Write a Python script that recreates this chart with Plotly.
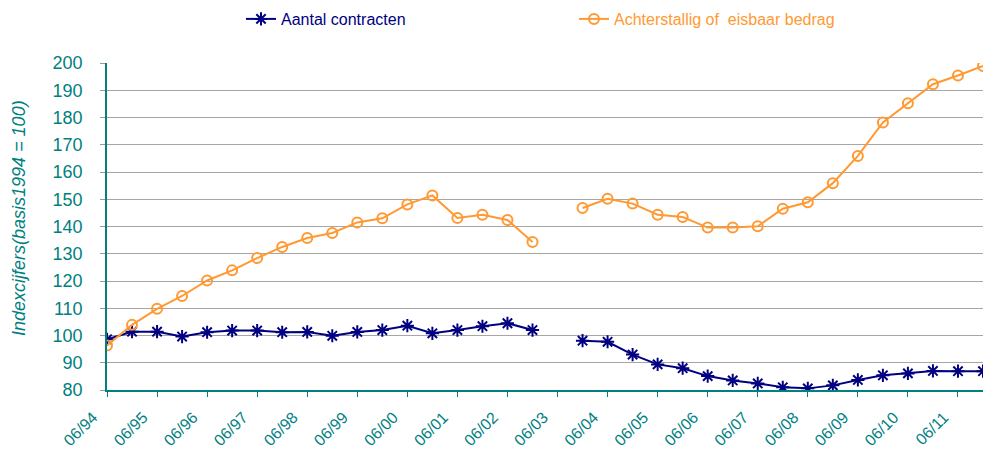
import plotly.graph_objects as go

years = ["94","95","96","97","98","99","00","01","02","03","04","05","06","07","08","09","10","11"]
periods = []
for y in years:
    periods += ["06/" + y, "12/" + y]

tick_labels = ["06/" + y for y in years]

aantal_contracten = [98.6, 101.4, 101.4, 99.6, 101.2, 101.8, 101.8, 101.2, 101.3, 99.9,
                     101.3, 102.0, 103.6, 100.8, 102.0, 103.4, 104.5, 102.0, None, 98.1,
                     97.7, 93.0, 89.4, 88.0, 85.1, 83.5, 82.4, 81.0, 80.6, 81.7,
                     83.7, 85.4, 86.1, 87.0, 86.9, 86.9]

achterstallig = [96.3, 103.9, 109.8, 114.5, 120.2, 123.9, 128.4, 132.5, 135.8, 137.6,
                 141.5, 143.0, 148.1, 151.4, 143.1, 144.3, 142.4, 134.3, None, 146.8,
                 150.2, 148.4, 144.3, 143.5, 139.6, 139.6, 140.1, 146.5, 148.9, 155.9,
                 165.9, 178.2, 185.2, 192.2, 195.4, 198.9]

TEAL = "#00807F"
NAVY = "#000080"
ORANGE = "#FF9933"
FONT = "Liberation Sans, Arial, sans-serif"

L, R, T, B, W, H = 107, 0, 63, 60, 983, 450
PW = W - L - R
PH = H - T - B

fig = go.Figure()
fig.add_trace(go.Scatter(
    x=periods, y=aantal_contracten, mode="lines+markers", name="Aantal contracten",
    line=dict(color=NAVY, width=2),
    marker=dict(symbol="asterisk-open", size=11, line=dict(color=NAVY, width=2), color=NAVY),
    connectgaps=False,
))
fig.add_trace(go.Scatter(
    x=periods, y=achterstallig, mode="lines+markers",
    name="<span style='color:%s'>Achterstallig of  eisbaar bedrag</span>" % ORANGE,
    line=dict(color=ORANGE, width=2),
    marker=dict(symbol="circle-open", size=10, line=dict(color=ORANGE, width=2), color=ORANGE),
    connectgaps=False,
))

fig.update_layout(
    width=W, height=H,
    margin=dict(l=L, r=R, t=T, b=B, autoexpand=False),
    paper_bgcolor="white", plot_bgcolor="white",
    font=dict(family=FONT, size=16, color=TEAL),
    showlegend=True,
    legend=dict(
        orientation="h", x=(241 - L) / PW, xanchor="left",
        y=(H - B - 19) / PH, yanchor="middle",
        entrywidth=288, entrywidthmode="pixels",
        font=dict(family=FONT, size=16, color=NAVY), bgcolor="rgba(0,0,0,0)",
    ),
    annotations=[dict(
        text="Indexcijfers(basis1994 = 100)", xref="paper", yref="paper",
        x=(19 - L) / PW, y=(H - B - 218) / PH, xanchor="center", yanchor="middle",
        textangle=-90, showarrow=False,
        font=dict(family=FONT, size=18, color=TEAL, style="italic"),
    )],
)

fig.update_xaxes(
    type="category", categoryorder="array", categoryarray=periods,
    range=[0, 35], tickmode="array", tickvals=tick_labels, ticktext=tick_labels,
    tickangle=-45, ticks="outside", ticklen=5, tickcolor=TEAL,
    showline=True, linecolor=TEAL, linewidth=1.5, showgrid=False, zeroline=False,
    tickfont=dict(family=FONT, size=16, color=TEAL), automargin=False,
    ticklabelstandoff=5, ticklabelshift=-14,
)
fig.update_yaxes(
    range=[80, 200], dtick=10, tick0=80, ticks="outside", ticklen=5, tickcolor="#999999",
    showline=True, linecolor=TEAL, linewidth=1.5, showgrid=True, gridcolor="#A6A6A6",
    gridwidth=1, zeroline=False, tickfont=dict(family=FONT, size=18, color=TEAL),
    automargin=False, ticklabelstandoff=14,
)

fig.write_html(
    "out.html",
    config={"displayModeBar": False},
    post_script="document.body.style.margin='0';document.body.style.overflow='hidden';",
)
